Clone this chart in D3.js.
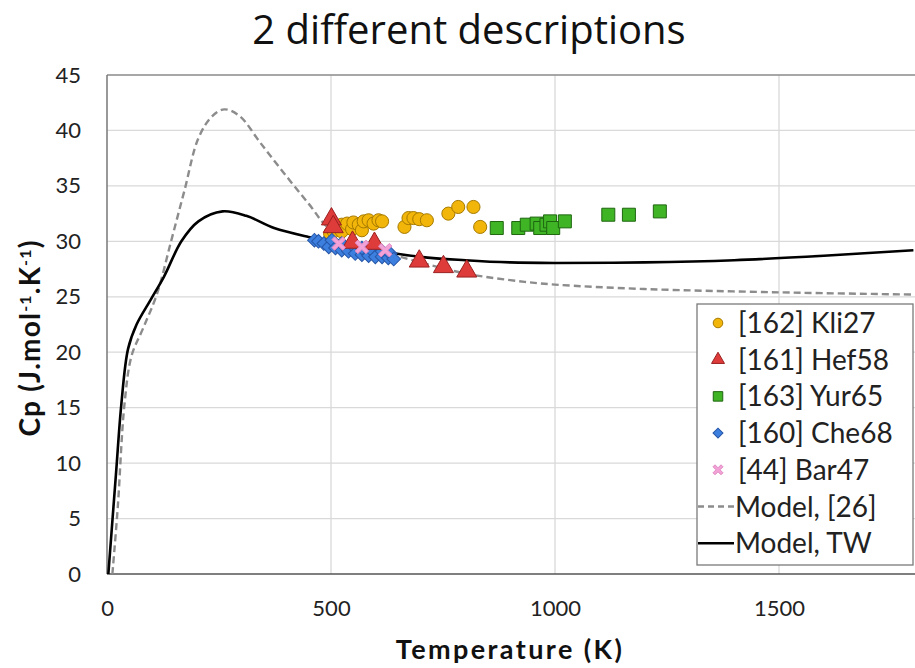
<!DOCTYPE html>
<html>
<head>
<meta charset="utf-8">
<script src="https://cdn.jsdelivr.net/npm/d3@7"></script>
<style>
  body { margin: 0; background: #fff; }
  svg { display: block; }
</style>
</head>
<body>
<svg id="chart" width="915" height="668"></svg>
<script>
// model curves (T in K, Cp in J/mol/K)
const modelTwT  = [3, 20, 32, 47, 66, 97, 127, 166, 204, 258, 311, 373, 450, 500, 600, 700, 800, 900, 1000, 1200, 1400, 1600, 1800];
const modelTwCp = [0, 9, 15.3, 20.3, 22.5, 24.7, 26.8, 30.0, 31.8, 32.7, 32.3, 31.2, 30.4, 30.0, 29.2, 28.6, 28.3, 28.1, 28.05, 28.1, 28.3, 28.7, 29.2];
const model26T  = [12, 24, 39, 55, 81, 112, 143, 173, 204, 235, 262, 296, 342, 396, 450, 500, 600, 700, 800, 900, 1000, 1200, 1500, 1800];
const model26Cp = [0, 6, 15.3, 19.7, 22.2, 25.3, 30.0, 34.6, 39.3, 41.3, 41.9, 41.3, 38.9, 36.1, 33.4, 31.0, 29.3, 28.1, 27.1, 26.5, 26.1, 25.7, 25.4, 25.2];

// experimental series
const kliT  = [498, 506, 510, 524, 524, 536, 547, 550, 562, 569, 573, 584, 595, 606, 614, 664, 673, 684, 697, 714, 762, 784, 818, 833];
const kliCp = [30.7, 30.9, 31.4, 31.5, 30.9, 31.6, 31.1, 31.7, 31.5, 31.0, 31.8, 31.9, 31.6, 31.9, 31.8, 31.3, 32.1, 32.1, 32.0, 31.9, 32.5, 33.1, 33.1, 31.3];
const hefT  = [501, 505, 548, 597, 697, 751, 803];
const hefCp = [32.0, 31.3, 29.9, 29.8, 28.2, 27.7, 27.3];
const yurT  = [870, 918, 937, 959, 967, 981, 989, 996, 1022, 1119, 1165, 1234];
const yurCp = [31.2, 31.2, 31.5, 31.6, 31.2, 31.5, 31.8, 31.2, 31.8, 32.4, 32.4, 32.7];
const cheT  = [463, 472, 484, 495, 502, 510, 524, 524, 539, 547, 554, 569, 569, 584, 591, 599, 614, 614, 628, 632, 640];
const cheCp = [30.1, 30.0, 29.8, 29.5, 30.1, 29.4, 29.2, 29.8, 29.1, 29.7, 28.9, 28.8, 29.4, 28.7, 29.2, 28.6, 28.6, 29.1, 28.5, 28.9, 28.4];
const barT  = [517, 569, 621];
const barCp = [29.8, 29.5, 29.2];

const yTicks = [0, 5, 10, 15, 20, 25, 30, 35, 40, 45];
const xTicks = [0, 500, 1000, 1500];

const svg = d3.select("#chart");
const font = "Lato, 'Open Sans', sans-serif";

const x = d3.scaleLinear().domain([0, 1800]).range([107, 913.4]);
const y = d3.scaleLinear().domain([0, 45]).range([574, 75]);

// title
svg.append("text")
  .attr("x", 469).attr("y", 44)
  .attr("text-anchor", "middle")
  .style("font-family", "'Open Sans', 'Noto Sans', sans-serif")
  .style("font-size", "40px")
  .style("fill", "#111")
  .text("2 different descriptions");

// gridlines
svg.append("g").selectAll("line")
  .data(yTicks.filter(d => d > 0 && d < 45))
  .enter().append("line")
  .attr("x1", x(0)).attr("x2", 915)
  .attr("y1", d => y(d)).attr("y2", d => y(d))
  .attr("stroke", "#d9d9d9").attr("stroke-width", 1.3);

svg.append("g").selectAll("line")
  .data(xTicks.filter(d => d > 0))
  .enter().append("line")
  .attr("x1", d => x(d)).attr("x2", d => x(d))
  .attr("y1", y(45)).attr("y2", y(0))
  .attr("stroke", "#d9d9d9").attr("stroke-width", 1.3);

// plot frame
svg.append("line")
  .attr("x1", x(0)).attr("x2", 915).attr("y1", y(45)).attr("y2", y(45))
  .attr("stroke", "#8a8a8a").attr("stroke-width", 1.3);
svg.append("line")
  .attr("x1", x(0)).attr("x2", x(0)).attr("y1", y(45)).attr("y2", y(0))
  .attr("stroke", "#777").attr("stroke-width", 1.5);
svg.append("line")
  .attr("x1", x(0)).attr("x2", 915).attr("y1", y(0)).attr("y2", y(0))
  .attr("stroke", "#555").attr("stroke-width", 1.6);

// axes (labels only)
const yAxis = svg.append("g")
  .attr("transform", `translate(${x(0)},0)`)
  .call(d3.axisLeft(y).tickValues(yTicks).tickSize(0).tickPadding(26));
const xAxis = svg.append("g")
  .attr("transform", `translate(0,${y(0)})`)
  .call(d3.axisBottom(x).tickValues(xTicks).tickSize(0).tickPadding(26).tickFormat(d3.format("d")));
[yAxis, xAxis].forEach(a => {
  a.select(".domain").remove();
  a.selectAll("text")
    .style("font-family", font)
    .style("font-size", "22px")
    .style("fill", "#222");
});

// axis titles
svg.append("text")
  .attr("x", 510).attr("y", 659)
  .attr("text-anchor", "middle")
  .style("font-family", font)
  .style("font-size", "27px")
  .style("font-weight", "bold")
  .style("letter-spacing", "2.4px")
  .style("fill", "#111")
  .text("Temperature (K)");

const yTitle = svg.append("text")
  .attr("transform", "translate(40,338) rotate(-90)")
  .attr("text-anchor", "middle")
  .style("font-family", font)
  .style("font-size", "28px")
  .style("font-weight", "bold")
  .style("letter-spacing", "1.2px")
  .style("fill", "#111");
yTitle.append("tspan").text("Cp (J.mol");
yTitle.append("tspan").attr("baseline-shift", "super").style("font-size", "16px").text("-1");
yTitle.append("tspan").text(".K");
yTitle.append("tspan").attr("baseline-shift", "super").style("font-size", "16px").text("-1");
yTitle.append("tspan").text(")");

// clip for plot area
svg.append("defs").append("clipPath").attr("id", "plotClip")
  .append("rect").attr("x", x(0)).attr("y", y(45)).attr("width", 915 - x(0)).attr("height", y(0) - y(45));

const line = d3.line()
  .x(d => x(d[0])).y(d => y(d[1]))
  .curve(d3.curveCatmullRom.alpha(0.5));

const plot = svg.append("g").attr("clip-path", "url(#plotClip)");

plot.append("path")
  .datum(d3.zip(model26T, model26Cp))
  .attr("d", line)
  .attr("fill", "none")
  .attr("stroke", "#8c8c8c")
  .attr("stroke-width", 2.4)
  .attr("stroke-dasharray", "7,4");

plot.append("path")
  .datum(d3.zip(modelTwT, modelTwCp))
  .attr("d", line)
  .attr("fill", "none")
  .attr("stroke", "#000")
  .attr("stroke-width", 2.6);

// marker shapes
const styles = {
  kli: { sym: d3.symbolCircle, fill: "#f2b50a", stroke: "#a67a00" },
  hef: { sym: d3.symbolTriangle, fill: "#dd3c3a", stroke: "#9a2020" },
  yur: { sym: d3.symbolSquare, fill: "#3fb526", stroke: "#1f6610" },
  che: { sym: d3.symbolSquare, fill: "#3c7fde", stroke: "#2656a8", rot: 45 },
  bar: { sym: null, fill: "#f2a2d6", stroke: "#e08ac4" }
};

function crossPath(s) {
  // thick X shape
  const a = s / 2, t = s * 0.2;
  return `M${-a},${-a + t} L${-a + t},${-a} L0,${-t} L${a - t},${-a} L${a},${-a + t} L${t},0 L${a},${a - t} L${a - t},${a} L0,${t} L${-a + t},${a} L${-a},${a - t} L${-t},0 Z`;
}

function shape(key, size) {
  const st = styles[key];
  if (key === "bar") return crossPath(size);
  const k = key === "kli" ? 0.8 : key === "hef" ? 0.6 : key === "che" ? 0.55 : 1;
  return d3.symbol().type(st.sym).size(size * size * k)();
}

function drawSeries(key, ts, cps, size) {
  const st = styles[key];
  const g = plot.append("g");
  g.selectAll("path")
    .data(d3.zip(ts, cps))
    .enter().append("path")
    .attr("transform", d => `translate(${x(d[0])},${y(d[1])}) rotate(${st.rot || 0})`)
    .attr("d", shape(key, size))
    .attr("fill", st.fill)
    .attr("stroke", st.stroke)
    .attr("stroke-width", 1);
}

drawSeries("kli", kliT, kliCp, 13);
drawSeries("yur", yurT, yurCp, 13);
drawSeries("che", cheT, cheCp, 13);
drawSeries("hef", hefT, hefCp, 17);
drawSeries("bar", barT, barCp, 13.5);

// legend
const legendItems = [
  { key: "kli", label: "[162] Kli27" },
  { key: "hef", label: "[161] Hef58" },
  { key: "yur", label: "[163] Yur65" },
  { key: "che", label: "[160] Che68" },
  { key: "bar", label: "[44] Bar47" },
  { key: "m26", label: "Model, [26]" },
  { key: "mtw", label: "Model, TW" }
];

const legend = svg.append("g");
legend.append("rect")
  .attr("x", 697).attr("y", 304)
  .attr("width", 216).attr("height", 261)
  .attr("fill", "#fff")
  .attr("stroke", "#7a7a7a")
  .attr("stroke-width", 1.3);

legendItems.forEach((it, i) => {
  const cy = 323 + i * 36.7;
  const st = styles[it.key];
  if (st) {
    legend.append("path")
      .attr("transform", `translate(718,${cy}) rotate(${st.rot || 0})`)
      .attr("d", shape(it.key, it.key === "hef" ? 11 : it.key === "bar" ? 10 : 9.5))
      .attr("fill", st.fill)
      .attr("stroke", st.stroke)
      .attr("stroke-width", 1);
  } else {
    legend.append("line")
      .attr("x1", 698).attr("x2", 734)
      .attr("y1", cy).attr("y2", cy)
      .attr("stroke", it.key === "m26" ? "#8c8c8c" : "#000")
      .attr("stroke-width", it.key === "m26" ? 2.4 : 2.6)
      .attr("stroke-dasharray", it.key === "m26" ? "6,4" : null);
  }
  legend.append("text")
    .attr("x", st ? 738 : 735)
    .attr("y", cy)
    .attr("dy", "0.36em")
    .style("font-family", font)
    .style("font-size", "28px")
    .style("fill", "#222")
    .text(it.label);
});
</script>
</body>
</html>
